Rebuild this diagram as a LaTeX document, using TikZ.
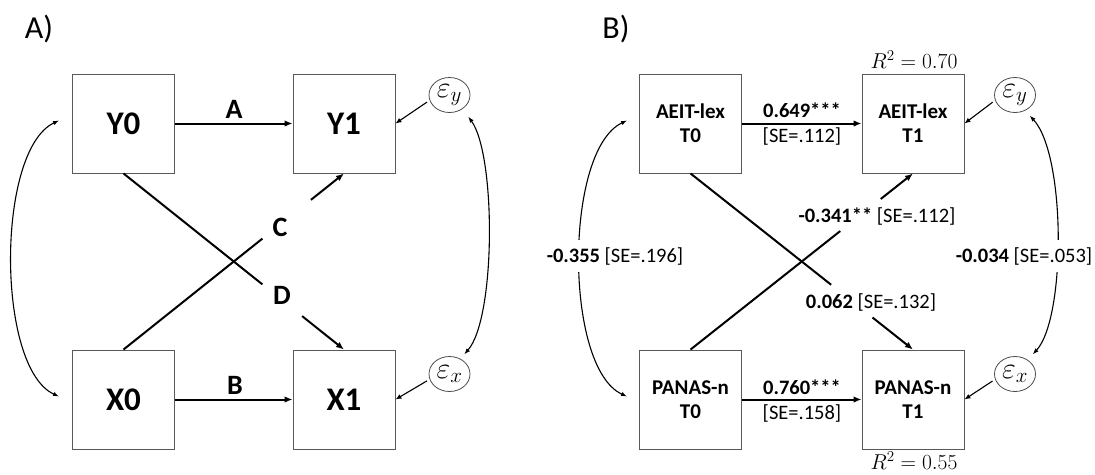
\RequirePackage{fix-cm}
\documentclass[tikz,border=0pt]{standalone}
\usepackage{fontspec}
\setmainfont{Carlito}
\usetikzlibrary{arrows.meta,calc,shapes.geometric}
\begin{document}
\begin{tikzpicture}[x=1pt,y=-1pt,
  box/.style={draw=black!65, line width=0.9pt, minimum width=102pt, minimum height=99pt, inner sep=0pt, align=center},
  boxA/.style={box, font=\fontsize{33}{38}\selectfont\bfseries},
  boxB/.style={box, font=\fontsize{21}{24}\selectfont\bfseries},
  err/.style={ellipse, draw=black!70, line width=0.8pt, minimum width=41pt, minimum height=35pt, inner sep=0pt, font=\fontsize{30}{34}\selectfont},
  regarrow/.style={line width=2pt, -{Latex[length=8pt,width=6.5pt]}},
  regline/.style={line width=2pt},
  covarrow/.style={line width=1.1pt, {Latex[length=6pt,width=4.5pt]}-{Latex[length=6pt,width=4.5pt]}},
  errarrow/.style={line width=1.1pt, -{Latex[length=6pt,width=5pt]}},
  lblA/.style={font=\fontsize{28}{32}\selectfont\bfseries, inner sep=0pt},
  lblB/.style={font=\fontsize{20.5}{24}\selectfont, inner sep=1pt},
  panel/.style={font=\fontsize{32}{38}\selectfont, inner sep=0pt},
  rsq/.style={font=\fontsize{21.5}{24}\selectfont, inner sep=0pt},
]
\useasboundingbox (0,0) rectangle (1095,474);

% ---------------- Panel A ----------------
\node[panel] (pA) at (39,29) {A)};
\node[boxA] (Y0) at (123.5,123.5) {Y0};
\node[boxA] (Y1) at (344,123.5) {Y1};
\node[boxA] (X0) at (123.5,399.5) {X0};
\node[boxA] (X1) at (344,399.5) {X1};
\node[err] (eyA) at (449.5,95) {$\varepsilon_y$};
\node[err] (exA) at (449.5,374) {$\varepsilon_x$};

\draw[regarrow] (Y0) -- (Y1);
\draw[regarrow] (X0) -- (X1);
\node[lblA] (lA) at (234,109) {A};
\node[lblA] (lB) at (235,385) {B};
\node[lblA] (lC) at (280,227) {C};
\node[lblA] (lD) at (282,295) {D};

\draw[regline] (X0.north) -- ($(X0.north)!0.63!(Y1.south)$);
\draw[regarrow] ($(X0.north)!0.85!(Y1.south)$) -- (Y1.south);
\draw[regline] (Y0.south) -- ($(Y0.south)!0.63!(X1.north)$);
\draw[regarrow] ($(Y0.south)!0.81!(X1.north)$) -- (X1.north);

\draw[errarrow, shorten <=3pt] (eyA.195) -- (Y1.east);
\draw[errarrow, shorten <=3pt] (exA.195) -- (X1.east);

\draw[covarrow] ($(Y0.west)+(-13,-3)$) .. controls (-4,150) and (-4,368) .. ($(X0.west)+(-13,-3)$);
\draw[covarrow] ($(eyA.south east)+(4,9)$) .. controls (496,155) and (496,318) .. ($(exA.north east)+(0,-7)$);

% ---------------- Panel B ----------------
\node[panel] (pB) at (616,29) {B)};
\node[boxB] (A0) at (690.5,123.5) {AEIT-lex\\T0};
\node[boxB] (A1) at (913,123.5) {AEIT-lex\\T1};
\node[boxB] (P0) at (690.5,399.5) {PANAS-n\\T0};
\node[boxB] (P1) at (913,399.5) {PANAS-n\\T1};
\node[err] (eyB) at (1015,95) {$\varepsilon_y$};
\node[err] (exB) at (1015,374) {$\varepsilon_x$};
\node[rsq] (r1) at (914,60) {$R^2 = 0.70$};
\node[rsq] (r2) at (914,461) {$R^2 = 0.55$};

\draw[regarrow] (A0) -- (A1);
\draw[regarrow] (P0) -- (P1);
\node[lblB] (b1) at (802,110) {\textbf{0.649***}};
\node[lblB] (b2) at (802,136) {[SE=.112]};
\node[lblB] (b3) at (802,387) {\textbf{0.760***}};
\node[lblB] (b4) at (802,413) {[SE=.158]};

\draw[regline] (P0.north) -- ($(P0.north)!0.673!(A1.south)$);
\draw[regarrow] ($(P0.north)!0.855!(A1.south)$) -- (A1.south);
\draw[regline] (A0.south) -- ($(A0.south)!0.632!(P1.north)$);
\draw[regarrow] ($(A0.south)!0.818!(P1.north)$) -- (P1.north);
\node[lblB] (b5) at (877,216) {\textbf{-0.341**} [SE=.112]};
\node[lblB] (b6) at (871,302) {\textbf{0.062} [SE=.132]};

\draw[errarrow, shorten <=3pt] (eyB.195) -- (A1.east);
\draw[errarrow, shorten <=3pt] (exB.195) -- (P1.east);

\draw[covarrow] ($(A0.west)+(-12,-3)$) .. controls (564,150) and (564,368) .. ($(P0.west)+(-12,-3)$);
\draw[covarrow] ($(eyB.south east)+(0,8)$) .. controls (1066,155) and (1066,318) .. ($(exB.north east)+(3,-7)$);
\node[lblB, fill=white, inner ysep=7pt] (b7) at (615,256) {\textbf{-0.355} [SE=.196]};
\node[lblB, fill=white, inner ysep=7pt] (b8) at (1024,256) {\textbf{-0.034} [SE=.053]};
\end{tikzpicture}
\end{document}
